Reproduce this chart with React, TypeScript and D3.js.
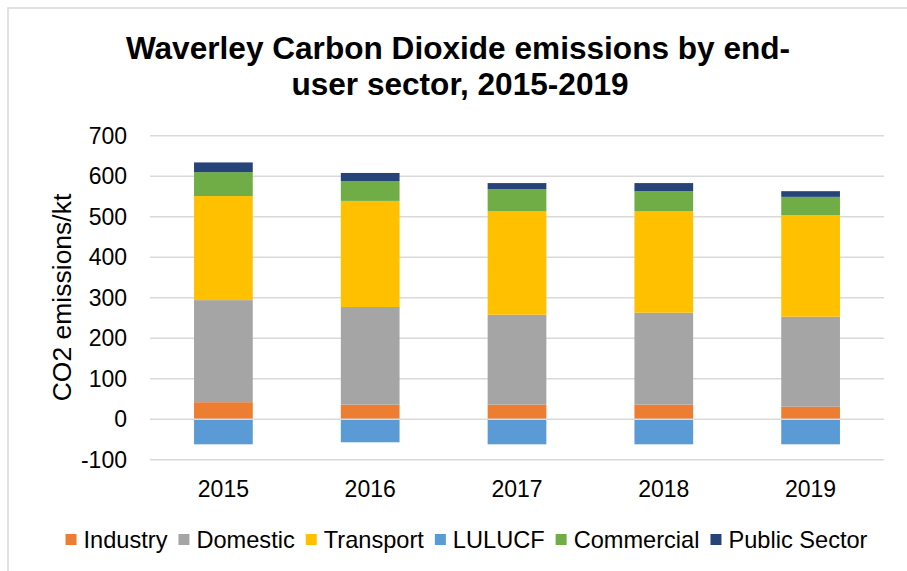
import React from 'react';
import * as d3 from 'd3';

const years = ['2015', '2016', '2017', '2018', '2019'];
const sectors = ['Industry', 'Domestic', 'Transport', 'LULUCF', 'Commercial', 'Public Sector'];
const colors = ['#ED7D31', '#A5A5A5', '#FFC000', '#5B9BD5', '#70AD47', '#264478'];

const industry = [42, 36, 36, 36, 31];
const domestic = [252, 241, 222, 227, 222];
const transport = [257, 262, 256, 251, 251];
const lulucf = [-62, -57, -62, -62, -62];
const commercial = [59, 49, 54, 49, 45];
const publicSector = [24, 20, 15, 20, 14];

const yTicks = [-100, 0, 100, 200, 300, 400, 500, 600, 700];

const FONT = '"Liberation Sans", Arial, sans-serif';

function measure(text: string, size: number) {
  const ctx = document.createElement('canvas').getContext('2d');
  if (!ctx) return text.length * size * 0.5;
  ctx.font = `${size}px ${FONT}`;
  return ctx.measureText(text).width;
}

export default function App() {
  const width = 907;
  const height = 571;
  const left = 150;
  const right = 884;

  const rows = years.map((y, i) => ({
    year: y,
    Industry: industry[i],
    Domestic: domestic[i],
    Transport: transport[i],
    LULUCF: lulucf[i],
    Commercial: commercial[i],
    'Public Sector': publicSector[i],
  }));

  const series = d3.stack<any>().keys(sectors).offset(d3.stackOffsetDiverging)(rows);

  const x = d3.scaleBand().domain(years).range([left, right]).paddingInner(0.6).paddingOuter(0.3);
  const y = d3.scaleLinear().domain([-100, 700]).range([459.7, 135.7]);

  // legend layout
  const legendSize = 23.6;
  const items = sectors.map(s => ({ s, w: measure(s, legendSize) }));
  const itemWidths = items.map(d => 11 + 7 + d.w + 11);
  const total = d3.sum(itemWidths) - 11;
  let cursor = 466.5 - total / 2;
  const legend = items.map((d, i) => {
    const pos = cursor;
    cursor += itemWidths[i];
    return { ...d, x: pos, color: colors[i] };
  });

  return (
    <svg width={width} height={height} style={{ position: 'absolute', left: 0, top: 0, fontFamily: FONT }}>
      <rect x={0} y={0} width={width} height={height} fill="#fff" />
      <rect x={8} y={8} width={1000} height={1000} fill="none" stroke="#d9d9d9" strokeWidth={1.5} />

      <text x={458} y={59} textAnchor="middle" fontSize={31.6} fontWeight="bold" fill="#000">
        Waverley Carbon Dioxide emissions by end-
      </text>
      <text x={460} y={95} textAnchor="middle" fontSize={31.6} fontWeight="bold" fill="#000">
        user sector, 2015-2019
      </text>

      {yTicks.filter(t => t !== 0).map(t => (
        <line key={t} x1={left} x2={right} y1={y(t)} y2={y(t)} stroke="#d9d9d9" strokeWidth={1.5} />
      ))}

      {series.map((s, si) => (
        <g key={s.key} fill={colors[si]}>
          {s.map((d, i) => (
            <rect
              key={i}
              x={x(years[i])}
              width={x.bandwidth()}
              y={y(Math.max(d[0], d[1]))}
              height={Math.abs(y(d[0]) - y(d[1]))}
            />
          ))}
        </g>
      ))}

      <line x1={left} x2={right} y1={y(0)} y2={y(0)} stroke="#d9d9d9" strokeWidth={1.5} />

      {yTicks.map(t => (
        <text key={t} x={127} y={y(t)} dy="0.36em" textAnchor="end" fontSize={23} fill="#000">
          {t}
        </text>
      ))}

      {years.map(yr => (
        <text key={yr} x={(x(yr) ?? 0) + x.bandwidth() / 2} y={497} textAnchor="middle" fontSize={23} fill="#000">
          {yr}
        </text>
      ))}

      <text
        transform={`translate(${71},${297.5}) rotate(-90)`}
        textAnchor="middle"
        fontSize={26.5}
        fill="#000"
      >
        CO2 emissions/kt
      </text>

      {legend.map(d => (
        <g key={d.s}>
          <rect x={d.x} y={534} width={11} height={11} fill={d.color} />
          <text x={d.x + 18} y={547.5} fontSize={legendSize} fill="#000">
            {d.s}
          </text>
        </g>
      ))}
    </svg>
  );
}
